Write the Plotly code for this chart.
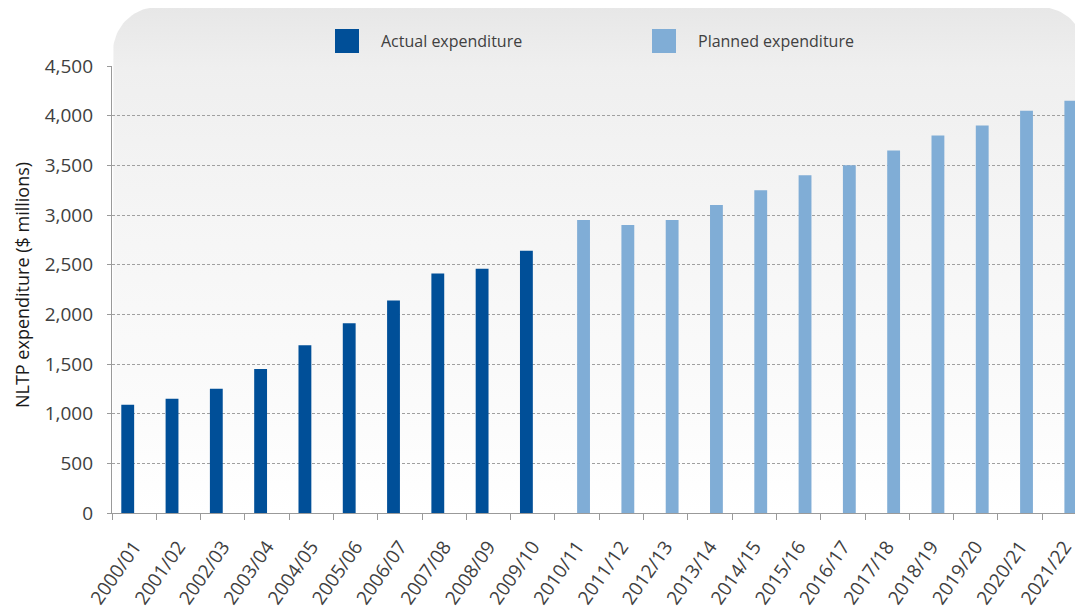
import numpy as np
import plotly.graph_objects as go

# ---- data ----
years = ["2000/01", "2001/02", "2002/03", "2003/04", "2004/05", "2005/06", "2006/07",
         "2007/08", "2008/09", "2009/10", "2010/11", "2011/12", "2012/13", "2013/14",
         "2014/15", "2015/16", "2016/17", "2017/18", "2018/19", "2019/20", "2020/21",
         "2021/22"]
actual_years = years[:10]
actual_values = [1090, 1150, 1250, 1450, 1690, 1910, 2140, 2410, 2460, 2640]
planned_years = years[10:]
planned_values = [2950, 2900, 2950, 3100, 3250, 3400, 3500, 3650, 3800, 3900, 4050, 4150]
y_ticks = [0, 500, 1000, 1500, 2000, 2500, 3000, 3500, 4000, 4500]
y_ticktext = ["0", "500", "1,000", "1,500", "2,000", "2,500", "3,000", "3,500", "4,000", "4,500"]

# page body has an 8px margin; figure sized to fit the window
OFF = 8
W, H = 1083 - OFF, 613 - OFF
DARK = "#004f98"
LIGHT = "#80add6"

actual_full = [actual_values[actual_years.index(y)] if y in actual_years else None for y in years]
planned_full = [planned_values[planned_years.index(y)] if y in planned_years else None for y in years]

def fx(sx):  # screen px -> paper fraction
    return (sx - OFF) / W

def fy(sy):
    return 1 - (sy - OFF) / H

fig = go.Figure()

# ---- background rounded gradient panel (decoration, figure pixel coords on hidden axes) ----
x0, x1, top, bot, r = 113 - OFF, W + 2, 7 - OFF, 513 - OFF, 45
t = np.linspace(0, np.pi / 2, 24)
left_arc_x = x0 + r - r * np.cos(t)
left_arc_y = top + r - r * np.sin(t)
right_arc_x = x1 - r + r * np.sin(t)
right_arc_y = top + r - r * np.cos(t)
px = np.concatenate([[x0], left_arc_x, right_arc_x, [x1, x0]])
py = np.concatenate([[bot], left_arc_y, right_arc_y, [bot, bot]])
fig.add_trace(go.Scatter(
    x=px, y=H - py, mode="lines", line=dict(width=0), fill="toself",
    fillgradient=dict(type="vertical",
                      colorscale=[[0, "#ffffff"], [0.22, "#fbfbfb"], [0.59, "#f5f5f5"],
                                  [0.88, "#efefef"], [1, "#e7e7e7"]]),
    hoverinfo="skip", showlegend=False, xaxis="x", yaxis="y"))

# ---- bars ----
fig.add_trace(go.Bar(x=years, y=actual_full, name="Actual expenditure",
                     marker=dict(color=DARK, line=dict(width=0)),
                     xaxis="x2", yaxis="y2", showlegend=False))
fig.add_trace(go.Bar(x=years, y=planned_full, name="Planned expenditure",
                     marker=dict(color=LIGHT, line=dict(width=0)),
                     xaxis="x2", yaxis="y2", showlegend=False))

font_main = "Open Sans, DejaVu Sans, sans-serif"
fig.update_layout(
    width=W, height=H,
    margin=dict(l=0, r=0, t=0, b=0),
    paper_bgcolor="white", plot_bgcolor="rgba(0,0,0,0)",
    barmode="group", bargap=0.42, bargroupgap=0,
    font=dict(family=font_main, color="#404040"),
    xaxis=dict(domain=[0, 1], range=[0, W], visible=False, fixedrange=True),
    yaxis=dict(domain=[0, 1], range=[0, H], visible=False, fixedrange=True),
    xaxis2=dict(domain=[fx(112), 1], anchor="y2", type="category",
                range=[-0.5, 21.42], showgrid=False, showline=True, linecolor="#9a9a9a",
                linewidth=1.3, ticks="outside", tickson="boundaries", ticklen=6,
                tickcolor="#9a9a9a", tickwidth=1.3, tickangle=-55,
                ticklabelstandoff=14,
                tickfont=dict(size=19, color="#404040"), automargin=False),
    yaxis2=dict(domain=[fy(513), fy(66)], anchor="x2",
                range=[0, 4500], tickvals=y_ticks, ticktext=y_ticktext,
                showgrid=True, gridcolor="#a0a0a0", griddash="3px,2px", gridwidth=1.4,
                showline=True, linecolor="#9a9a9a", linewidth=1.3,
                ticks="outside", ticklen=4, tickcolor="#9a9a9a", tickwidth=1.3,
                ticklabelstandoff=10,
                tickfont=dict(size=19, color="#404040"), zeroline=False,
                automargin=False),
)

# y-axis title
fig.add_annotation(text="NLTP expenditure ($ millions)", xref="paper", yref="paper",
                   x=fx(OFF + 1), y=fy(285), xanchor="left", yanchor="middle",
                   textangle=-90, showarrow=False, borderpad=0,
                   font=dict(size=18, color="#1a1a1a"))

# ---- legend (swatches + labels) ----
legend_items = [("Actual expenditure", DARK, 335), ("Planned expenditure", LIGHT, 652)]
for label, col, lx in legend_items:
    fig.add_shape(type="rect", xref="paper", yref="paper",
                  x0=fx(lx), x1=fx(lx + 24), y0=fy(53), y1=fy(29),
                  fillcolor=col, line=dict(width=0), layer="above")
    fig.add_annotation(text=label, xref="paper", yref="paper",
                       x=fx(lx + 44), y=fy(41), xanchor="left", yanchor="middle",
                       showarrow=False, font=dict(size=16, color="#404040"))

fig.write_html("out.html")
